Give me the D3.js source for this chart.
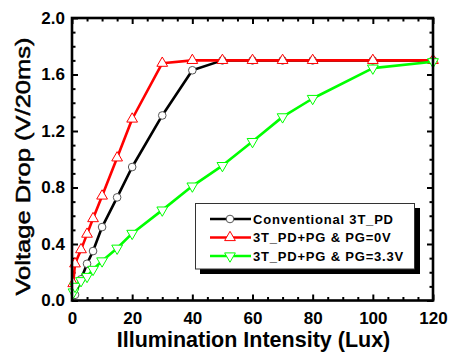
<!DOCTYPE html>
<html>
<head>
<meta charset="utf-8">
<script src="https://cdn.jsdelivr.net/npm/d3@7"></script>
<style>
  html, body { margin: 0; padding: 0; background: #fff; }
  svg { display: block; }
</style>
</head>
<body>
<svg id="chart" width="451" height="354"></svg>
<script>
// Illumination intensity (Lux) and measured voltage drop (V/20ms) for each pixel type
const conventionalX = [1, 3, 5, 7, 10, 15, 20, 30, 40, 50, 60, 70, 80, 100, 120];
const conventionalY = [0.04, 0.15, 0.26, 0.35, 0.52, 0.73, 0.945, 1.31, 1.63, 1.70, 1.70, 1.70, 1.70, 1.70, 1.70];

const pg0X = [0.4, 1, 3, 5, 7, 10, 15, 20, 30, 40, 50, 60, 70, 80, 100, 120];
const pg0Y = [0.12, 0.26, 0.36, 0.47, 0.58, 0.74, 1.01, 1.285, 1.68, 1.70, 1.70, 1.70, 1.70, 1.70, 1.70, 1.70];

const pg33X = [0.5, 1, 3, 5, 7, 10, 15, 20, 30, 40, 50, 60, 70, 80, 100, 120];
const pg33Y = [0.06, 0.10, 0.14, 0.17, 0.22, 0.28, 0.37, 0.475, 0.64, 0.81, 0.955, 1.125, 1.30, 1.43, 1.645, 1.69];

const seriesNames = ["Conventional 3T_PD", "3T_PD+PG & PG=0V", "3T_PD+PG & PG=3.3V"];

const xMajorTicks = [0, 20, 40, 60, 80, 100, 120];
const yMajorTicks = [0.0, 0.4, 0.8, 1.2, 1.6, 2.0];

const svg = d3.select("#chart");
const font = "Arial, 'Liberation Sans', sans-serif";

const plotLeft = 72, plotRight = 433, plotTop = 18, plotBottom = 300.5;
const x = d3.scaleLinear().domain([0, 120]).range([plotLeft, plotRight]);
const y = d3.scaleLinear().domain([0, 2.0]).range([plotBottom, plotTop]);

const series = [
  { name: seriesNames[0], xs: conventionalX, ys: conventionalY, color: "#000000", marker: "circle" },
  { name: seriesNames[1], xs: pg0X, ys: pg0Y, color: "#ff0000", marker: "up" },
  { name: seriesNames[2], xs: pg33X, ys: pg33Y, color: "#00ff00", marker: "down" }
];

const xMinor = d3.range(0, 121, 5).filter(v => v % 20 !== 0);
const yMinor = d3.range(1, 20).map(i => i / 10).filter(v => Math.round(v * 10) % 4 !== 0);

function styleAxis(g) {
  g.select(".domain").remove();
  g.selectAll(".tick line").attr("stroke", "#000").attr("stroke-width", 2);
  g.selectAll(".tick text")
    .attr("fill", "#000")
    .style("font-family", font)
    .style("font-size", "17px")
    .style("font-weight", "bold");
}

// bottom / top
svg.append("g").attr("transform", `translate(0,${plotBottom})`)
  .call(d3.axisBottom(x).tickValues(xMajorTicks).tickFormat(d3.format("d"))
    .tickSizeInner(-6).tickSizeOuter(0).tickPadding(11))
  .call(styleAxis);
svg.append("g").attr("transform", `translate(0,${plotBottom})`)
  .call(d3.axisBottom(x).tickValues(xMinor).tickFormat("").tickSizeInner(-3.5).tickSizeOuter(0))
  .call(styleAxis);
svg.append("g").attr("transform", `translate(0,${plotTop})`)
  .call(d3.axisTop(x).tickValues(xMajorTicks).tickFormat("").tickSizeInner(-6).tickSizeOuter(0))
  .call(styleAxis);
svg.append("g").attr("transform", `translate(0,${plotTop})`)
  .call(d3.axisTop(x).tickValues(xMinor).tickFormat("").tickSizeInner(-3.5).tickSizeOuter(0))
  .call(styleAxis);

// left / right
svg.append("g").attr("transform", `translate(${plotLeft},0)`)
  .call(d3.axisLeft(y).tickValues(yMajorTicks).tickFormat(d3.format(".1f"))
    .tickSizeInner(-6).tickSizeOuter(0).tickPadding(7))
  .call(styleAxis);
svg.append("g").attr("transform", `translate(${plotLeft},0)`)
  .call(d3.axisLeft(y).tickValues(yMinor).tickFormat("").tickSizeInner(-3.5).tickSizeOuter(0))
  .call(styleAxis);
svg.append("g").attr("transform", `translate(${plotRight},0)`)
  .call(d3.axisRight(y).tickValues(yMajorTicks).tickFormat("").tickSizeInner(-6).tickSizeOuter(0))
  .call(styleAxis);
svg.append("g").attr("transform", `translate(${plotRight},0)`)
  .call(d3.axisRight(y).tickValues(yMinor).tickFormat("").tickSizeInner(-3.5).tickSizeOuter(0))
  .call(styleAxis);

// data lines and markers
const line = d3.line().x(d => x(d[0])).y(d => y(d[1]));
const tri = d3.symbol().type(d3.symbolTriangle).size(50);
const circ = d3.symbol().type(d3.symbolCircle).size(46);

function drawMarker(sel, s) {
  if (s.marker === "circle") {
    sel.append("path").attr("d", circ()).attr("fill", "#fff").attr("stroke", "#555").attr("stroke-width", 1);
  } else {
    sel.append("path").attr("d", tri())
      .attr("transform", s.marker === "down" ? "rotate(180)" : null)
      .attr("fill", "#fff").attr("stroke", s.color).attr("stroke-width", 1);
  }
}

series.forEach(s => {
  const pts = s.xs.map((v, i) => [v, s.ys[i]]);
  const g = svg.append("g");
  g.append("path").datum(pts)
    .attr("d", line)
    .attr("fill", "none")
    .attr("stroke", s.color)
    .attr("stroke-width", 2.6)
    .attr("stroke-linejoin", "round");
  g.selectAll("g.pt").data(pts).join("g")
    .attr("class", "pt")
    .attr("transform", d => `translate(${x(d[0])},${y(d[1])})`)
    .each(function () { drawMarker(d3.select(this), s); });
});

// plot frame
svg.append("rect")
  .attr("x", plotLeft).attr("y", plotTop)
  .attr("width", plotRight - plotLeft).attr("height", plotBottom - plotTop)
  .attr("fill", "none").attr("stroke", "#000").attr("stroke-width", 2.6);

// legend with drop shadow
const lg = svg.append("g");
lg.append("rect").attr("x", 200).attr("y", 208).attr("width", 220).attr("height", 66).attr("fill", "#000");
lg.append("rect").attr("x", 195.5).attr("y", 203.5).attr("width", 219).attr("height", 65.5)
  .attr("fill", "#fff").attr("stroke", "#333").attr("stroke-width", 1);
const rowY = [219, 237.5, 256];
series.forEach((s, i) => {
  const row = lg.append("g").attr("transform", `translate(0,${rowY[i]})`);
  row.append("line").attr("x1", 210).attr("x2", 251).attr("y1", 0).attr("y2", 0)
    .attr("stroke", s.color).attr("stroke-width", 2.6);
  const m = row.append("g").attr("transform", "translate(230,0)");
  drawMarker(m, s);
  row.append("text").attr("x", 253).attr("y", 0).attr("dy", "0.36em")
    .style("font-family", font).style("font-size", "13px").style("font-weight", "bold")
    .style("letter-spacing", "0.8px")
    .attr("fill", "#000")
    .text(s.name);
});

// axis titles
svg.append("text")
  .attr("x", 253.5).attr("y", 346.5)
  .attr("text-anchor", "middle")
  .style("font-family", font).style("font-size", "21.5px").style("font-weight", "bold")
  .attr("fill", "#000")
  .text("Illumination Intensity (Lux)");

svg.append("text")
  .attr("transform", "translate(30,166.5) rotate(-90)")
  .attr("text-anchor", "middle")
  .attr("textLength", 258).attr("lengthAdjust", "spacingAndGlyphs")
  .style("font-family", font).style("font-size", "21px")
  .attr("fill", "#000").attr("stroke", "#000").attr("stroke-width", 0.5)
  .text("Voltage Drop (V/20ms)");
</script>
</body>
</html>
